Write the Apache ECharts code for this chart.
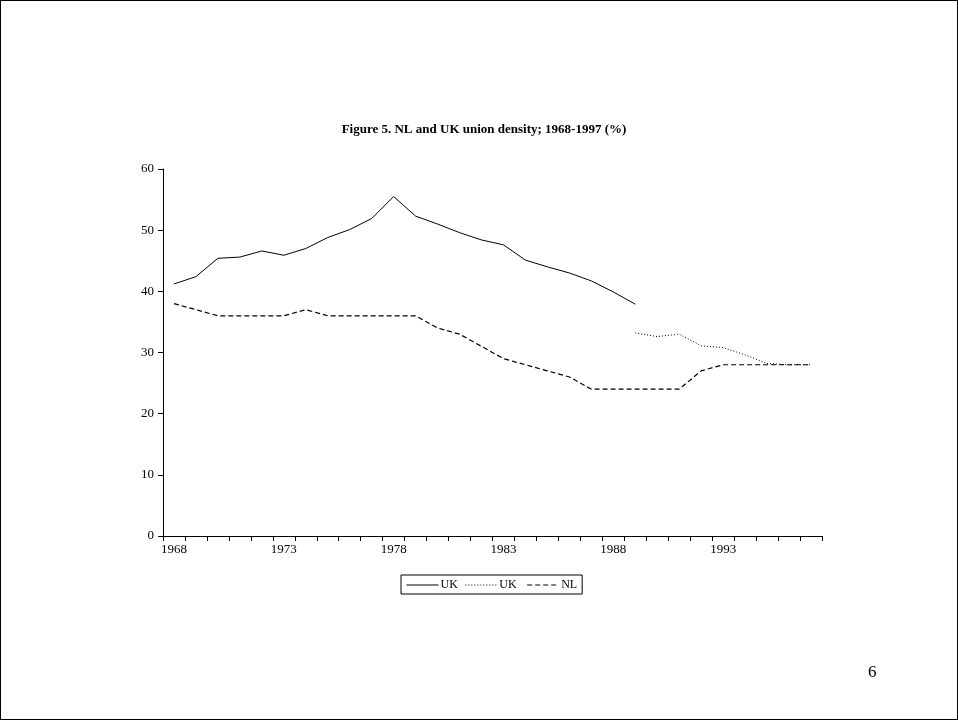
<!DOCTYPE html>
<html>
<head>
<meta charset="utf-8">
<script src="https://cdn.jsdelivr.net/npm/echarts@6/dist/echarts.min.js"></script>
<style>
html,body{margin:0;padding:0;background:#fff;}
#frame{position:absolute;left:0;top:0;width:956px;height:718px;border:1px solid #000;}
#chart{position:absolute;left:0;top:0;width:958px;height:720px;}
</style>
</head>
<body>
<div id="frame"></div>
<div id="chart"></div>
<script>
var years = [];
for (var y = 1968; y <= 1997; y++) years.push(String(y));
var ukSolid = [41.2, 42.4, 45.4, 45.6, 46.6, 45.9, 47.0, 48.8, 50.1, 51.9, 55.5, 52.3, 51.0, 49.6, 48.4, 47.6, 45.1, 44.0, 43.0, 41.7, 39.9, 37.9,
  null, null, null, null, null, null, null, null];
var ukDotted = [null, null, null, null, null, null, null, null, null, null, null, null, null, null, null, null, null, null, null, null, null,
  33.2, 32.6, 33.0, 31.1, 30.8, 29.6, 28.2, 28.0, 28.0];
var nl = [38, 37, 36, 36, 36, 36, 37, 36, 36, 36, 36, 36, 34, 33, 31, 29, 28, 27, 26, 24, 24, 24, 24, 24, 27, 28, 28, 28, 28, 28];
var yTicks = [0, 10, 20, 30, 40, 50, 60];

var chart = echarts.init(document.getElementById('chart'));
var font = '"Liberation Serif", "DejaVu Serif", serif';
chart.setOption({
  animation: false,
  backgroundColor: 'transparent',
  title: {
    text: 'Figure 5. NL and UK union density; 1968-1997 (%)',
    left: 479, top: 118, textAlign: 'center',
    textStyle: {fontFamily: font, fontSize: 13, fontWeight: 'bold', color: '#000'}
  },
  legend: {
    left: 401, top: 575,
    orient: 'horizontal',
    borderColor: '#000', borderWidth: 1, padding: [4, 5, 3, 5],
    itemWidth: 32, itemHeight: 10, itemGap: 7,
    itemStyle: {opacity: 0},
    lineStyle: {width: 1},
    textStyle: {fontFamily: font, fontSize: 12, color: '#000', padding: [0, 0, 0, -3]},
    data: [{name: 'UK'}, {name: 'UK '}, {name: 'NL'}]
  },
  graphic: [{
    type: 'text', left: 868, top: 664,
    style: {text: '6', font: '17px "Liberation Serif", serif', fill: '#000'}
  }],
  grid: {left: 163, right: 136, top: 169, bottom: 184},
  xAxis: {
    type: 'category', data: years, boundaryGap: true,
    axisLine: {lineStyle: {color: '#000', width: 1}},
    axisTick: {show: true, interval: 0, inside: false, length: 5, lineStyle: {color: '#000'}},
    axisLabel: {interval: 4, color: '#000', fontFamily: font, fontSize: 13, margin: 7},
    splitLine: {show: false}
  },
  yAxis: {
    type: 'value', min: yTicks[0], max: yTicks[yTicks.length - 1], interval: 10,
    axisLine: {show: true, lineStyle: {color: '#000', width: 1}},
    axisTick: {show: true, inside: false, length: 5, lineStyle: {color: '#000'}},
    axisLabel: {color: '#000', fontFamily: font, fontSize: 13, margin: 9},
    splitLine: {show: false}
  },
  series: [
    {name: 'UK', type: 'line', data: ukSolid, symbol: 'none', connectNulls: false,
      lineStyle: {color: '#000', width: 1, type: 'solid'}, itemStyle: {color: '#000'}},
    {name: 'UK ', type: 'line', data: ukDotted, symbol: 'none', connectNulls: false,
      lineStyle: {color: '#000', width: 1, type: [1, 2]}, itemStyle: {color: '#000'}},
    {name: 'NL', type: 'line', data: nl, symbol: 'none',
      lineStyle: {color: '#000', width: 1.2, type: [5, 3]}, itemStyle: {color: '#000'}}
  ]
});
</script>
</body>
</html>
